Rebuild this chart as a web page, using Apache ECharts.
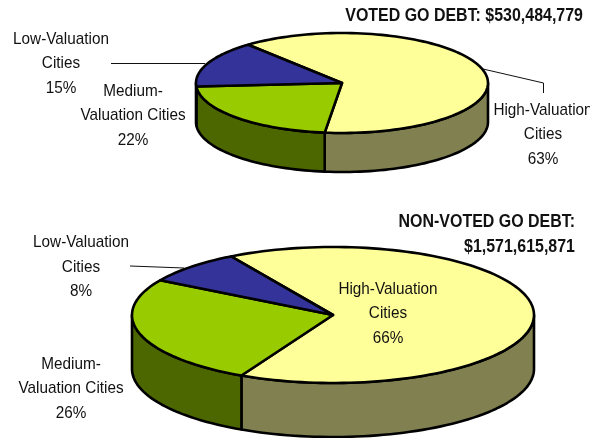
<!DOCTYPE html>
<html><head><meta charset="utf-8">
<style>html,body{margin:0;padding:0;background:#fff}#c{width:590px;height:438px}</style>
<script src="https://cdn.jsdelivr.net/npm/echarts@6/dist/echarts.min.js"></script>
</head><body><div id="c"></div>
<script>
const categories = ['High-Valuation', 'Medium-Valuation', 'Low-Valuation'];
const labelLines = [['High-Valuation','Cities'], ['Medium-','Valuation Cities'], ['Low-Valuation','Cities']];
const votedShares = [63, 22, 15];
const nonVotedShares = [66, 26, 8];
const votedTitle = 'VOTED GO DEBT: $530,484,779';
const nonVotedTitle = 'NON-VOTED GO DEBT:\n$1,571,615,871';

const topColors = ['#FFFF99', '#99CC00', '#333399'];
const wallColors = ['#808050', '#4C6600', '#1A1A4D'];
const FONT = '"Liberation Sans","Arial",sans-serif';

const pies = [
  {shares: votedShares, cx: 342, cy: 83, rx: 146, ry: 50, depth: 39, start: 320,
   labelPos: [[543,134.5],[133,115.5],[61,63.5]]},
  {shares: nonVotedShares, cx: 333, cy: 315, rx: 201, ry: 68, depth: 54, start: 329.5,
   labelPos: [[388,313.5],[71,388.5],[81,267]]}
];

function pt(p, deg, dy) {
  const a = deg * Math.PI / 180;
  return [p.cx + p.rx * Math.sin(a), p.cy - p.ry * Math.cos(a) + (dy || 0)];
}
function arc(p, a0, a1, dy) {
  const n = Math.max(2, Math.ceil(Math.abs(a1 - a0) / 2));
  const out = [];
  for (let i = 0; i <= n; i++) out.push(pt(p, a0 + (a1 - a0) * i / n, dy));
  return out;
}
function sliceRows(p) {
  let acc = 0;
  return p.shares.map((v, i) => { const r = [v, acc, i]; acc += v; return r; });
}
function topItem(p) {
  return function (params, api) {
    const a0 = p.start + api.value(1) * 3.6, a1 = a0 + api.value(0) * 3.6;
    return {type: 'polygon', shape: {points: [[p.cx, p.cy]].concat(arc(p, a0, a1))},
      style: {fill: topColors[api.value(2)], stroke: '#000', lineWidth: 2.6, lineJoin: 'round'}};
  };
}
function wallItem(p) {
  return function (params, api) {
    const a0 = p.start + api.value(1) * 3.6, a1 = a0 + api.value(0) * 3.6;
    const kids = [];
    [[90, 270], [450, 630]].forEach(function (w) {
      const s = Math.max(a0, w[0]), e = Math.min(a1, w[1]);
      if (e <= s) return;
      const pts = arc(p, s, e).concat(arc(p, e, s, p.depth));
      kids.push({type: 'polygon', shape: {points: pts},
        style: {fill: wallColors[api.value(2)], stroke: '#000', lineWidth: 2.6, lineJoin: 'round'}});
    });
    return {type: 'group', children: kids};
  };
}
const series = [];
pies.forEach(function (p) {
  const rows = sliceRows(p);
  series.push({type: 'custom', coordinateSystem: 'none', silent: true, z: 2, animation: false,
    renderItem: wallItem(p), data: rows});
  series.push({type: 'custom', coordinateSystem: 'none', silent: true, z: 3, animation: false,
    renderItem: topItem(p), data: rows});
});

const textStyleBase = {fontFamily: FONT, fontSize: 17, fill: '#111', lineHeight: 24.5, textAlign: 'center', textVerticalAlign: 'middle'};
const graphics = [];
pies.forEach(function (p) {
  p.shares.forEach(function (v, i) {
    graphics.push({type: 'text', x: p.labelPos[i][0], y: p.labelPos[i][1], scaleX: 0.9, z: 10, silent: true,
      style: Object.assign({}, textStyleBase, {text: labelLines[i].join('\n') + '\n' + v + '%'})});
  });
});
graphics.push({type: 'text', x: 583, y: 16, scaleX: 0.84, z: 10, silent: true,
  style: {text: votedTitle, fontFamily: FONT, fontSize: 19, fontWeight: 'bold', fill: '#111', textAlign: 'right', textVerticalAlign: 'middle'}});
graphics.push({type: 'text', x: 575, y: 234.5, scaleX: 0.84, z: 10, silent: true,
  style: {text: nonVotedTitle, fontFamily: FONT, fontSize: 19, fontWeight: 'bold', fill: '#111', lineHeight: 25, textAlign: 'right', textVerticalAlign: 'middle'}});
[[[111,63.5],[205,63.5]], [[483,69],[543.5,83],[543.5,93]], [[130,266],[184,268]]].forEach(function (pts) {
  graphics.push({type: 'polyline', z: 1, silent: true, shape: {points: pts}, style: {stroke: '#111', lineWidth: 1, fill: null}});
});

const chart = echarts.init(document.getElementById('c'), null, {renderer: 'canvas'});
chart.setOption({animation: false, backgroundColor: '#fff', series: series, graphic: {elements: graphics}});
</script></body></html>
